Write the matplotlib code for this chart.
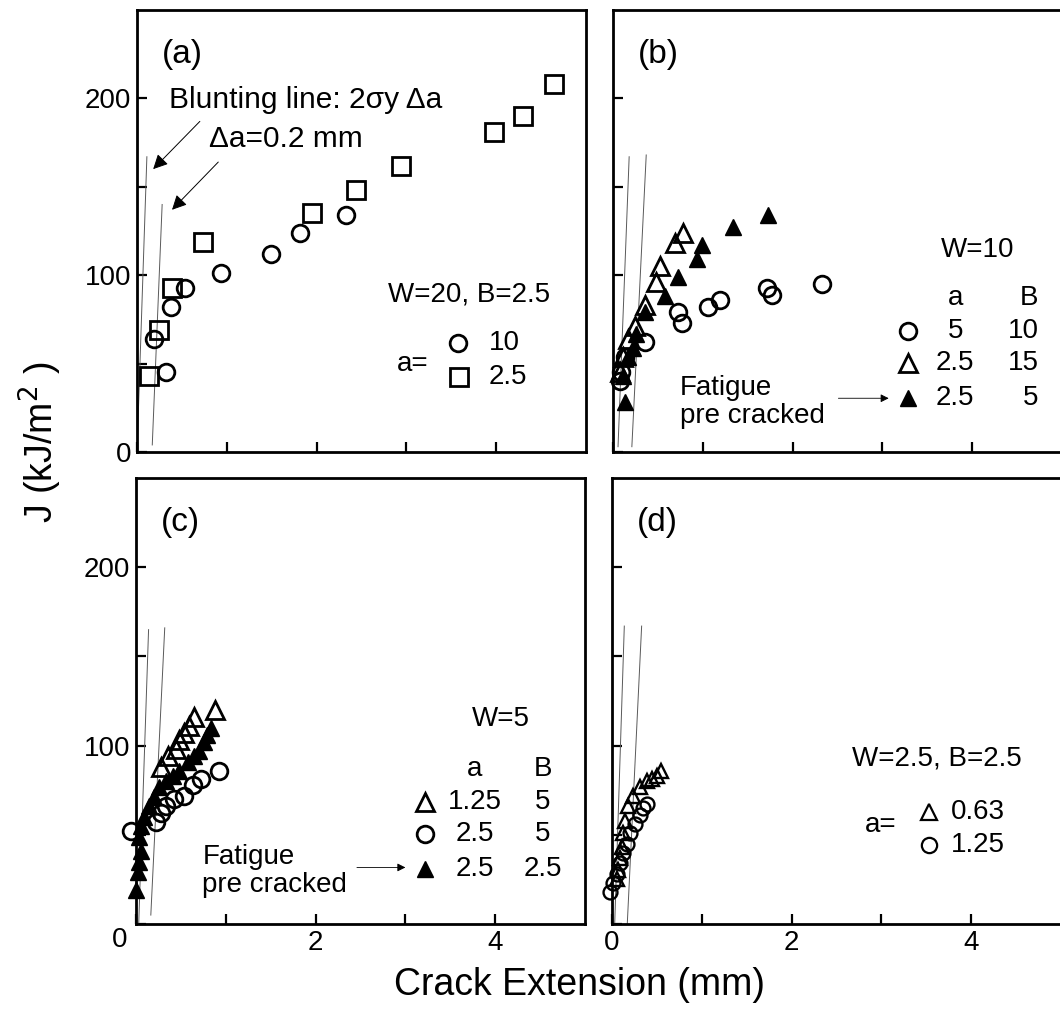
import matplotlib
matplotlib.use("Agg")
import matplotlib.pyplot as plt

plt.rcParams['font.family'] = ['Liberation Sans', 'DejaVu Sans']

# ---------------------------------------------------------------------------
# data  (crack extension in mm, J in kJ/m^2)
# ---------------------------------------------------------------------------
# (a) W=20, B=2.5
a_a10_x = [0.19, 0.32, 0.38, 0.54, 0.94, 1.49, 1.82, 2.33]
a_a10_j = [64, 45, 82, 93, 101, 112, 124, 134]
a_a25_x = [0.13, 0.24, 0.39, 0.73, 1.95, 2.44, 2.94, 3.97, 4.30, 4.64]
a_a25_j = [43, 69, 93, 119, 135, 148, 162, 181, 190, 208]

# (b) W=10
b_circ_x = [0.075, 0.093, 0.13, 0.354, 0.726, 0.77, 1.06, 1.19, 1.71, 1.77, 2.33]
b_circ_j = [40, 45, 54, 62, 79, 73, 82, 86, 93, 89, 95]
b_open_x = [0.075, 0.11, 0.168, 0.242, 0.354, 0.484, 0.52, 0.689, 0.782]
b_open_j = [45, 54, 64, 71, 83, 96, 105, 118, 124]
b_fill_x = [0.11, 0.13, 0.168, 0.223, 0.26, 0.354, 0.584, 0.726, 0.93, 0.987, 1.34, 1.73]
b_fill_j = [43, 28, 54, 59, 67, 79, 88, 99, 109, 117, 127, 134]

# (c) W=5
c_open_x = [0.278, 0.352, 0.444, 0.48, 0.537, 0.59, 0.648, 0.88]
c_open_j = [88, 94, 98, 103, 107, 111, 116, 120]
c_circ_x = [-0.06, 0.222, 0.278, 0.333, 0.426, 0.537, 0.63, 0.722, 0.926]
c_circ_j = [52, 57, 62, 66, 70, 72, 78, 81, 86]
c_fill_x = [0.0, 0.019, 0.037, 0.056, 0.037, 0.056, 0.092, 0.148, 0.2, 0.26,
            0.333, 0.41, 0.48, 0.574, 0.648, 0.70, 0.76, 0.796, 0.833]
c_fill_j = [19, 29, 35, 41, 49, 55, 60, 66, 71, 77,
            80, 83, 86, 91, 94, 97, 102, 106, 110]

# (d) W=2.5, B=2.5
d_tri_x = [0.052, 0.07, 0.089, 0.108, 0.126, 0.144, 0.18, 0.237, 0.31, 0.385, 0.44, 0.50, 0.55]
d_tri_j = [25, 30, 37, 43, 51, 58, 66, 72, 77, 80, 81, 83, 86]
d_circ_x = [-0.02, 0.015, 0.052, 0.089, 0.126, 0.163, 0.2, 0.256, 0.31, 0.348, 0.385]
d_circ_j = [18, 23, 28, 34, 40, 45, 51, 56, 61, 65, 67]

# blunting line (2 sigma_y da) and its 0.2 mm offset, per panel
blunt_x = {"a": [0.0, 0.11], "b": [0.056, 0.18], "c": [0.03, 0.14], "d": [0.03, 0.137]}
blunt_j = {"a": [0, 167], "b": [3, 167], "c": [0, 165], "d": [0, 167]}
offset_x = {"a": [0.17, 0.28], "b": [0.21, 0.37], "c": [0.165, 0.32], "d": [0.17, 0.33]}
offset_j = {"a": [4, 140], "b": [3, 168], "c": [5, 166], "d": [0, 167]}

# ---------------------------------------------------------------------------
W, H = 1060, 1010
fig = plt.figure(figsize=(W / 100, H / 100), dpi=100)


def add_panel(left, top, width, height):
    return fig.add_axes([left / W, 1 - (top + height) / H, width / W, height / H])


ax_a = add_panel(137, 10, 449, 442)
ax_b = add_panel(613, 10, 449, 442)
ax_c = add_panel(136, 478, 449, 446)
ax_d = add_panel(612, 478, 449, 446)

TICK_FS = 20
TXT_FS = 20

open_kw = dict(ls="none", mfc="none", mec="black", mew=2.0, ms=12, clip_on=False)
fill_kw = dict(ls="none", mfc="black", mec="black", mew=1.0, ms=12, clip_on=False)

for key, ax in zip("abcd", [ax_a, ax_b, ax_c, ax_d]):
    ax.set_xlim(0, 5)
    ax.set_ylim(0, 250)
    for sp in ax.spines.values():
        sp.set_linewidth(2.0)
    ax.tick_params(direction="in", length=7, width=1.6, labelsize=TICK_FS, pad=4)
    ax.set_xticks([0, 1, 2, 3, 4])
    ax.set_yticks([0, 50, 100, 150, 200])
    ax.set_xticklabels([])
    ax.set_yticklabels([])
    ax.plot(blunt_x[key], blunt_j[key], color="0.35", lw=0.7)
    ax.plot(offset_x[key], offset_j[key], color="0.35", lw=0.7)
    ax.text(0.28, 225, f"({key})", fontsize=24, ha="left", va="center")

ax_a.set_yticklabels(["0", "", "100", "", "200"])
ax_c.set_yticklabels(["", "", "100", "", "200"])
ax_c.set_xticklabels(["", "", "2", "", "4"])
ax_d.set_xticklabels(["0", "", "2", "", "4"])
ax_c.text(-0.036, -0.036, "0", transform=ax_c.transAxes, fontsize=TICK_FS,
          ha="center", va="center")

# (a) ------------------------------------------------------------------------
sq_kw = {**open_kw, "ms": 12.5}
ax_a.plot(a_a10_x, a_a10_j, marker="o", **open_kw)
ax_a.plot(a_a25_x, a_a25_j, marker="s", **sq_kw)
ax_a.text(0.36, 199, "Blunting line: 2σy Δa", fontsize=21.5, ha="left", va="center")
ax_a.text(0.80, 177, "Δa=0.2 mm", fontsize=21.5, ha="left", va="center")
arrow = dict(arrowstyle="-|>", color="black", lw=0.7, mutation_scale=22, shrinkA=0, shrinkB=0)
ax_a.annotate("", xy=(0.18, 160), xytext=(0.70, 187), arrowprops=arrow)
ax_a.annotate("", xy=(0.39, 137), xytext=(0.905, 164), arrowprops=arrow)
ax_a.text(2.80, 89, "W=20, B=2.5", fontsize=TXT_FS, ha="left", va="center")
ax_a.text(2.89, 50, "a=", fontsize=TXT_FS, ha="left", va="center")
ax_a.plot([3.58], [61.6], marker="o", **open_kw)
ax_a.plot([3.59], [42.7], marker="s", **sq_kw)
ax_a.text(3.92, 61.6, "10", fontsize=TXT_FS, ha="left", va="center")
ax_a.text(3.92, 42.7, "2.5", fontsize=TXT_FS, ha="left", va="center")

# (b) ------------------------------------------------------------------------
tri_kw = {**open_kw, "ms": 13}
ax_b.plot(b_circ_x, b_circ_j, marker="o", **open_kw)
ax_b.plot(b_open_x, b_open_j, marker="^", **tri_kw)
ax_b.plot(b_fill_x, b_fill_j, marker="^", **fill_kw)
ax_b.text(3.65, 114, "W=10", fontsize=TXT_FS, ha="left", va="center")
ax_b.text(3.81, 87, "a", fontsize=TXT_FS, ha="center", va="center")
ax_b.text(4.74, 87, "B", fontsize=TXT_FS, ha="right", va="center")
rows_b = [("o", open_kw, "5", "10"), ("^", tri_kw, "2.5", "15"),
          ("^", fill_kw, "2.5", "5")]
for y, (m, kw, av, bv) in zip([68.2, 50.2, 30.4], rows_b):
    ax_b.plot([3.28], [y], marker=m, **kw)
    ax_b.text(3.81, y, av, fontsize=TXT_FS, ha="center", va="center")
    ax_b.text(4.74, y, bv, fontsize=TXT_FS, ha="right", va="center")
ax_b.text(0.745, 28, "Fatigue\npre cracked", fontsize=TXT_FS, ha="left", va="center",
          linespacing=1.1)
small_arrow = dict(arrowstyle="-|>", color="black", lw=0.6, mutation_scale=12,
                   shrinkA=0, shrinkB=0)
ax_b.annotate("", xy=(3.07, 30.4), xytext=(2.51, 30.4), arrowprops=small_arrow)

# (c) ------------------------------------------------------------------------
ax_c.plot(c_open_x, c_open_j, marker="^", **tri_kw)
ax_c.plot(c_circ_x, c_circ_j, marker="o", **open_kw)
ax_c.plot(c_fill_x, c_fill_j, marker="^", **fill_kw)
ax_c.text(4.06, 115, "W=5", fontsize=TXT_FS, ha="center", va="center")
ax_c.text(3.77, 87, "a", fontsize=TXT_FS, ha="center", va="center")
ax_c.text(4.53, 87, "B", fontsize=TXT_FS, ha="center", va="center")
rows_c = [("^", tri_kw, "1.25", "5"), ("o", open_kw, "2.5", "5"),
          ("^", fill_kw, "2.5", "2.5")]
for y, (m, kw, av, bv) in zip([68.3, 50.7, 31.1], rows_c):
    ax_c.plot([3.22], [y], marker=m, **kw)
    ax_c.text(3.77, y, av, fontsize=TXT_FS, ha="center", va="center")
    ax_c.text(4.53, y, bv, fontsize=TXT_FS, ha="center", va="center")
ax_c.text(0.74, 29.7, "Fatigue\npre cracked", fontsize=TXT_FS, ha="left", va="center",
          linespacing=1.1)
ax_c.annotate("", xy=(3.0, 31.7), xytext=(2.46, 31.7), arrowprops=small_arrow)

# (d) ------------------------------------------------------------------------
small_open = {**open_kw, "ms": 10, "mew": 1.7}
ax_d.plot(d_tri_x, d_tri_j, marker="^", **small_open)
ax_d.plot(d_circ_x, d_circ_j, marker="o", **small_open)
ax_d.text(2.67, 92.5, "W=2.5, B=2.5", fontsize=TXT_FS, ha="left", va="center")
ax_d.text(2.82, 55.3, "a=", fontsize=TXT_FS, ha="left", va="center")
ax_d.plot([3.53], [62.7], marker="^", **{**open_kw, "ms": 11, "mew": 1.6})
ax_d.plot([3.53], [44.1], marker="o", **{**open_kw, "ms": 11, "mew": 1.6})
ax_d.text(3.77, 62.7, "0.63", fontsize=TXT_FS, ha="left", va="center")
ax_d.text(3.77, 44.1, "1.25", fontsize=TXT_FS, ha="left", va="center")

# shared axis labels
fig.text(40 / W, 1 - 442 / H, "J (kJ/m$^{2}$ )", rotation=90, fontsize=27,
         ha="center", va="center")
fig.text(580 / W, 1 - 985 / H, "Crack Extension (mm)", fontsize=27,
         ha="center", va="center")

fig.savefig("out.png", dpi=100)
